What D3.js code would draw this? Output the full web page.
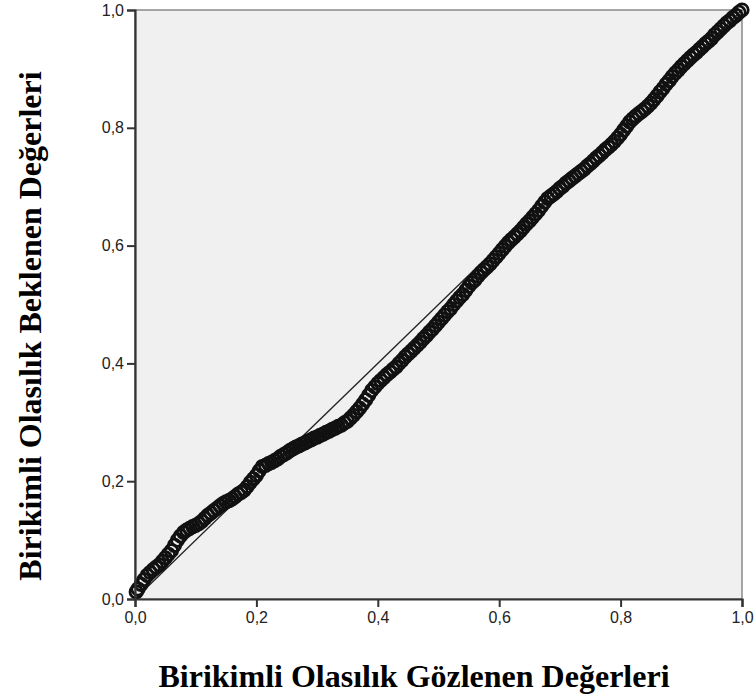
<!DOCTYPE html>
<html>
<head>
<meta charset="utf-8">
<script src="https://cdn.jsdelivr.net/npm/d3@7"></script>
<style>
  html, body { margin: 0; padding: 0; background: #ffffff; }
  svg { display: block; }
</style>
</head>
<body>
<svg id="chart" width="755" height="700"></svg>
<script>
// ---- data ----
const xTitle = "Birikimli Olasılık Gözlenen Değerleri";
const yTitle = "Birikimli Olasılık Beklenen Değerleri";
const tickValues = [0, 0.2, 0.4, 0.6, 0.8, 1.0];
const tickLabels = ["0,0", "0,2", "0,4", "0,6", "0,8", "1,0"];
const diagonal = [[0, 0], [1, 1]];

// observed cumulative probability (x)
const observed = [
0.002,0.005,0.010,0.015,0.020,0.025,0.030,0.035,0.040,0.045,
0.050,0.055,0.060,0.065,0.070,0.075,0.080,0.085,0.090,0.095,
0.100,0.105,0.110,0.115,0.120,0.125,0.130,0.135,0.140,0.145,
0.150,0.155,0.160,0.165,0.170,0.175,0.180,0.185,0.190,0.195,
0.200,0.205,0.210,0.215,0.220,0.225,0.230,0.235,0.240,0.245,
0.250,0.255,0.260,0.265,0.270,0.275,0.280,0.285,0.290,0.295,
0.300,0.305,0.310,0.315,0.320,0.325,0.330,0.335,0.340,0.345,
0.350,0.355,0.360,0.365,0.370,0.375,0.380,0.385,0.390,0.395,
0.400,0.405,0.410,0.415,0.420,0.425,0.430,0.435,0.440,0.445,
0.450,0.455,0.460,0.465,0.470,0.475,0.480,0.485,0.490,0.495,
0.500,0.505,0.510,0.515,0.520,0.525,0.530,0.535,0.540,0.545,
0.550,0.555,0.560,0.565,0.570,0.575,0.580,0.585,0.590,0.595,
0.600,0.605,0.610,0.615,0.620,0.625,0.630,0.635,0.640,0.645,
0.650,0.655,0.660,0.665,0.670,0.675,0.680,0.685,0.690,0.695,
0.700,0.705,0.710,0.715,0.720,0.725,0.730,0.735,0.740,0.745,
0.750,0.755,0.760,0.765,0.770,0.775,0.780,0.785,0.790,0.795,
0.800,0.805,0.810,0.815,0.820,0.825,0.830,0.835,0.840,0.845,
0.850,0.855,0.860,0.865,0.870,0.875,0.880,0.885,0.890,0.895,
0.900,0.905,0.910,0.915,0.920,0.925,0.930,0.935,0.940,0.945,
0.950,0.955,0.960,0.965,0.970,0.975,0.980,0.985,0.990,0.995,
1.000];

// expected cumulative probability (y)
const expected = [
0.012,0.017,0.025,0.033,0.040,0.045,0.050,0.054,0.058,0.064,
0.070,0.076,0.082,0.091,0.100,0.107,0.113,0.117,0.120,0.123,
0.125,0.128,0.132,0.137,0.142,0.146,0.150,0.154,0.158,0.162,
0.165,0.167,0.170,0.174,0.178,0.181,0.185,0.191,0.198,0.204,
0.210,0.218,0.225,0.227,0.230,0.232,0.235,0.238,0.242,0.245,
0.248,0.252,0.255,0.258,0.260,0.263,0.265,0.268,0.270,0.273,
0.275,0.278,0.280,0.283,0.285,0.288,0.290,0.293,0.295,0.299,
0.302,0.307,0.312,0.318,0.324,0.331,0.338,0.346,0.354,0.360,
0.366,0.371,0.376,0.381,0.385,0.390,0.394,0.400,0.405,0.411,
0.416,0.421,0.426,0.431,0.436,0.442,0.447,0.453,0.458,0.464,
0.470,0.476,0.482,0.488,0.493,0.500,0.506,0.512,0.517,0.524,
0.531,0.537,0.542,0.548,0.554,0.559,0.564,0.569,0.575,0.581,
0.587,0.593,0.599,0.605,0.610,0.615,0.620,0.625,0.631,0.637,
0.642,0.648,0.654,0.660,0.667,0.674,0.680,0.684,0.688,0.692,
0.697,0.701,0.706,0.710,0.714,0.718,0.722,0.726,0.730,0.735,
0.739,0.744,0.749,0.753,0.758,0.763,0.767,0.772,0.777,0.783,
0.789,0.796,0.803,0.810,0.815,0.820,0.824,0.828,0.832,0.837,
0.842,0.848,0.854,0.861,0.867,0.874,0.880,0.887,0.893,0.898,
0.904,0.909,0.914,0.919,0.924,0.928,0.933,0.938,0.943,0.947,
0.952,0.958,0.963,0.968,0.973,0.978,0.982,0.987,0.991,0.996,
1.000];

// ---- layout ----
const svg = d3.select("#chart");
const margin = { left: 135, top: 10, right: 13, bottom: 101 };
const W = 755, H = 700;
const plotW = W - margin.left - margin.right;   // 607
const plotH = H - margin.top - margin.bottom;   // 589

const x = d3.scaleLinear().domain([0, 1]).range([margin.left, margin.left + plotW]);
const y = d3.scaleLinear().domain([0, 1]).range([margin.top + plotH, margin.top]);

// plot background + frame
svg.append("rect")
  .attr("x", x(0)).attr("y", y(1))
  .attr("width", x(1) - x(0)).attr("height", y(0) - y(1))
  .attr("fill", "#f0f0f0")
  .attr("stroke", "#6e6e6e")
  .attr("stroke-width", 1.2);

// reference diagonal
svg.append("line")
  .attr("x1", x(diagonal[0][0])).attr("y1", y(diagonal[0][1]))
  .attr("x2", x(diagonal[1][0])).attr("y2", y(diagonal[1][1]))
  .attr("stroke", "#222")
  .attr("stroke-width", 1.3);

// points
const pts = observed.map((v, i) => ({ o: v, e: expected[i] }));
svg.append("g")
  .selectAll("circle")
  .data(pts)
  .join("circle")
  .attr("cx", d => x(d.o))
  .attr("cy", d => y(d.e))
  .attr("r", 6.2)
  .attr("fill", "none")
  .attr("stroke", "#111")
  .attr("stroke-width", 2.8);

// axes
const fmt = d => tickLabels[tickValues.indexOf(d)];
const xAxis = svg.append("g")
  .attr("transform", `translate(0,${y(0)})`)
  .call(d3.axisBottom(x).tickValues(tickValues).tickFormat(fmt).tickSize(8).tickPadding(5));
const yAxis = svg.append("g")
  .attr("transform", `translate(${x(0)},0)`)
  .call(d3.axisLeft(y).tickValues(tickValues).tickFormat(fmt).tickSize(8).tickPadding(3));

[xAxis, yAxis].forEach(g => {
  g.select(".domain").attr("stroke", "#333").attr("stroke-width", 2.2);
  g.selectAll(".tick line").attr("stroke", "#333").attr("stroke-width", 2);
  g.selectAll(".tick text")
    .attr("fill", "#222")
    .style("font-family", "'Liberation Sans', Arial, sans-serif")
    .style("font-size", "16px");
});

// axis titles
svg.append("text")
  .attr("x", 414).attr("y", 687)
  .attr("text-anchor", "middle")
  .style("font-family", "'Liberation Serif', 'Times New Roman', serif")
  .style("font-weight", "bold")
  .style("font-size", "32px")
  .attr("fill", "#000")
  .text(xTitle);

svg.append("text")
  .attr("transform", "translate(41,326) rotate(-90)")
  .attr("text-anchor", "middle")
  .style("font-family", "'Liberation Serif', 'Times New Roman', serif")
  .style("font-weight", "bold")
  .style("font-size", "32px")
  .attr("fill", "#000")
  .text(yTitle);
</script>
</body>
</html>
